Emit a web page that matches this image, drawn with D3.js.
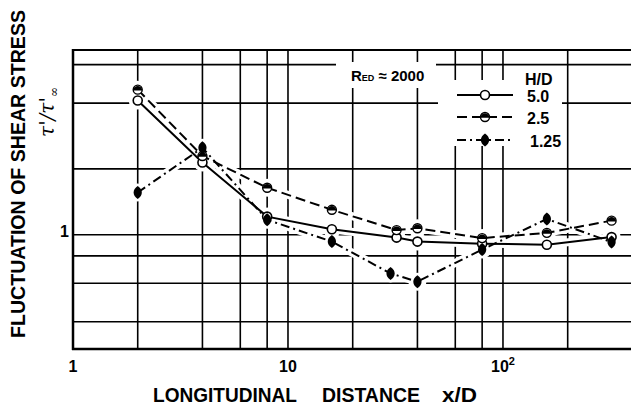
<!DOCTYPE html>
<html><head><meta charset="utf-8">
<script src="https://cdn.jsdelivr.net/npm/d3@7"></script>
<style>body{margin:0;background:#fff}svg{display:block}</style>
</head><body>
<script>
// ---- data ----
const xVals = [2, 4, 8, 16, 32, 40, 80, 160, 320];
const xVals125 = [2, 4, 8, 16, 30, 40, 80, 160, 320];
const hd50 = [4.11, 2.14, 1.21, 1.06, 0.97, 0.93, 0.91, 0.90, 0.975];
const hd25 = [4.61, 2.29, 1.64, 1.30, 1.05, 1.07, 0.965, 1.02, 1.16];
const hd125 = [1.56, 2.50, 1.17, 0.93, 0.665, 0.61, 0.855, 1.18, 0.925];
const seriesLabels = ["5.0", "2.5", "1.25"];
const xGrid = [2, 4, 6, 8, 10, 20, 40, 60, 80, 100, 200];
const yGrid = [0.4, 0.6, 0.8, 1, 2, 4, 6];
const xTickLabels = [{v: 1, t: "1"}, {v: 10, t: "10"}, {v: 100, t: "10", sup: "2"}];
const yTickLabels = [{v: 1, t: "1"}];

const W = 631, H = 405;
const svg = d3.select("body").append("svg").attr("width", W).attr("height", H);
const x = d3.scaleLog().domain([1, 394]).range([73, 631]);
const y = d3.scaleLog().domain([0.3, 7]).range([349, 50]);
const FONT = "'Liberation Sans', Arial, sans-serif";

// grid
const g = svg.append("g");
g.selectAll(".vg").data(xGrid).join("line")
  .attr("x1", d => x(d)).attr("x2", d => x(d)).attr("y1", 50).attr("y2", 349)
  .attr("stroke", "#000").attr("stroke-width", 1.6);
g.selectAll(".hg").data(yGrid).join("line")
  .attr("x1", 73).attr("x2", W).attr("y1", d => y(d)).attr("y2", d => y(d))
  .attr("stroke", "#000").attr("stroke-width", 1.6);

// white gaps for annotation / legend
svg.append("rect").attr("x", 336).attr("y", 62).attr("width", 100).attr("height", 26).attr("fill", "#fff");
svg.append("rect").attr("x", 438).attr("y", 80).attr("width", 124).attr("height", 66).attr("fill", "#fff");

// axes frame
svg.append("line").attr("x1", 73).attr("x2", W).attr("y1", 50).attr("y2", 50).attr("stroke", "#000").attr("stroke-width", 2);
svg.append("line").attr("x1", 73).attr("x2", 73).attr("y1", 49).attr("y2", 350).attr("stroke", "#000").attr("stroke-width", 2.5);
svg.append("line").attr("x1", 72).attr("x2", W).attr("y1", 349).attr("y2", 349).attr("stroke", "#000").attr("stroke-width", 2.5);

// series
const series = [
  {xs: xVals, ys: hd50, dash: null, marker: "open"},
  {xs: xVals, ys: hd25, dash: "10,5", marker: "half"},
  {xs: xVals125, ys: hd125, dash: "9,4,2,4", marker: "lens"}
];
const line = d3.line().x(d => x(d[0])).y(d => y(d[1]));
const halo = svg.append("g"), dl = svg.append("g"), mk = svg.append("g");
series.forEach(s => {
  const pts = s.xs.map((v, i) => [v, s.ys[i]]);
  halo.append("path").attr("d", line(pts)).attr("fill", "none").attr("stroke", "#fff").attr("stroke-width", 8);
  pts.forEach(p => halo.append("circle").attr("cx", x(p[0])).attr("cy", y(p[1])).attr("r", 9).attr("fill", "#fff"));
});
function drawMarker(sel, type, cx, cy) {
  const gm = sel.append("g").attr("transform", `translate(${cx},${cy})`);
  if (type === "open") {
    gm.append("circle").attr("r", 4.5).attr("fill", "#fff").attr("stroke", "#000").attr("stroke-width", 1.6);
  } else if (type === "half") {
    gm.append("circle").attr("r", 4.5).attr("fill", "#fff").attr("stroke", "#000").attr("stroke-width", 1.4);
    gm.append("path").attr("d", "M-4.5,0.8 A4.5,4.5 0 0 1 4.5,0.8 Z").attr("fill", "#000");
  } else {
    gm.append("path").attr("d", "M0,-6.5 C5.5,-3 5.5,3 0,6.5 C-5.5,3 -5.5,-3 0,-6.5 Z").attr("fill", "#000");
  }
}
series.forEach(s => {
  const pts = s.xs.map((v, i) => [v, s.ys[i]]);
  const p = dl.append("path").attr("d", line(pts)).attr("fill", "none").attr("stroke", "#000").attr("stroke-width", 2);
  if (s.dash) p.attr("stroke-dasharray", s.dash);
  pts.forEach(q => drawMarker(mk, s.marker, x(q[0]), y(q[1])));
});

// tick labels
xTickLabels.forEach(t => {
  const tx = svg.append("text").attr("x", x(t.v)).attr("y", 372).attr("text-anchor", "middle")
    .attr("font-family", FONT).attr("font-weight", "bold").attr("font-size", 16).text(t.t);
  if (t.sup) tx.append("tspan").attr("dy", -7).attr("font-size", 11).text(t.sup);
});
yTickLabels.forEach(t => {
  svg.append("text").attr("x", 69).attr("y", y(t.v) + 2).attr("text-anchor", "end")
    .attr("font-family", FONT).attr("font-weight", "bold").attr("font-size", 16).text(t.t);
});

// axis titles
svg.append("text").attr("transform", "translate(25,174) rotate(-90)").attr("text-anchor", "middle")
  .attr("font-family", FONT).attr("font-weight", "bold").attr("font-size", 20)
  .attr("textLength", 328).attr("lengthAdjust", "spacingAndGlyphs").text("FLUCTUATION OF SHEAR STRESS");
const tau = svg.append("text").attr("transform", "translate(54,112) rotate(-90)").attr("text-anchor", "middle")
  .attr("font-family", "'DejaVu Serif', serif").attr("font-style", "italic").attr("font-size", 20);
tau.append("tspan").text("τ'/τ'");
tau.append("tspan").attr("dy", 4).attr("font-size", 12).text("∞");

[["LONGITUDINAL", 153, 144], ["DISTANCE", 322, 98], ["x/D", 442, 35]].forEach(([t, tx, tl]) => {
  svg.append("text").attr("x", tx).attr("y", 402).attr("font-family", FONT).attr("font-weight", "bold")
    .attr("font-size", 20).attr("textLength", tl).attr("lengthAdjust", "spacingAndGlyphs").text(t);
});

// annotation
const re = svg.append("text").attr("x", 351).attr("y", 81).attr("font-family", FONT).attr("font-weight", "bold").attr("font-size", 15);
re.append("tspan").text("R");
re.append("tspan").attr("font-size", 9).text("ED");
re.append("tspan").text(" ≈ 2000");

// legend
svg.append("text").attr("x", 525).attr("y", 85).attr("font-family", FONT).attr("font-weight", "bold").attr("font-size", 16).text("H/D");
const legY = [95, 117, 140];
series.forEach((s, i) => {
  const l = svg.append("line").attr("x1", 457).attr("x2", 513).attr("y1", legY[i]).attr("y2", legY[i])
    .attr("stroke", "#000").attr("stroke-width", 2);
  if (s.dash) l.attr("stroke-dasharray", s.dash);
  drawMarker(svg, s.marker, 485, legY[i]);
  svg.append("text").attr("x", i === 2 ? 530 : 527).attr("y", legY[i] + 7).attr("font-family", FONT)
    .attr("font-weight", "bold").attr("font-size", 16).text(seriesLabels[i]);
});
</script>
</body></html>
